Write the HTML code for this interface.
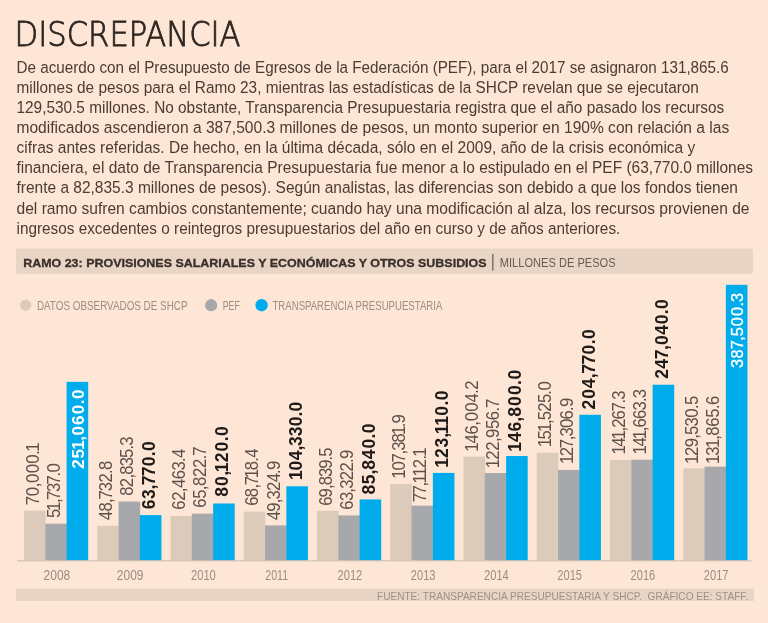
<!DOCTYPE html>
<html><head><meta charset="utf-8"><title>Discrepancia</title>
<style>
html,body{margin:0;padding:0;background:#fde6d5;}
body{width:768px;height:623px;overflow:hidden;position:relative;}
svg{position:absolute;left:0;top:0;display:block;}
</style></head><body>
<svg width="768" height="623" viewBox="0 0 768 623" font-family="'Liberation Sans', Arial, sans-serif">
<rect x="0" y="0" width="768" height="623" fill="#fde6d5"/>

<text x="14.6" y="46.4" font-family="'DejaVu Sans', sans-serif" font-weight="200" font-size="34" fill="#2f2622" stroke="#2f2622" stroke-width="0.85" textLength="226" lengthAdjust="spacingAndGlyphs">DISCREPANCIA</text>
<text x="16.5" y="72.50" font-size="17.2" fill="#4a3c34" textLength="712.2" lengthAdjust="spacingAndGlyphs">De acuerdo con el Presupuesto de Egresos de la Federación (PEF), para el 2017 se asignaron 131,865.6</text>
<text x="16.5" y="92.66" font-size="17.2" fill="#4a3c34" textLength="682.4" lengthAdjust="spacingAndGlyphs">millones de pesos para el Ramo 23, mientras las estadísticas de la SHCP revelan que se ejecutaron</text>
<text x="16.5" y="112.82" font-size="17.2" fill="#4a3c34" textLength="707.8" lengthAdjust="spacingAndGlyphs">129,530.5 millones. No obstante, Transparencia Presupuestaria registra que el año pasado los recursos</text>
<text x="16.5" y="132.98" font-size="17.2" fill="#4a3c34" textLength="712.7" lengthAdjust="spacingAndGlyphs">modificados ascendieron a 387,500.3 millones de pesos, un monto superior en 190% con relación a las</text>
<text x="16.5" y="153.14" font-size="17.2" fill="#4a3c34" textLength="678.8" lengthAdjust="spacingAndGlyphs">cifras antes referidas. De hecho, en la última década, sólo en el 2009, año de la crisis económica y</text>
<text x="16.5" y="173.30" font-size="17.2" fill="#4a3c34" textLength="736.6" lengthAdjust="spacingAndGlyphs">financiera, el dato de Transparencia Presupuestaria fue menor a lo estipulado en el PEF (63,770.0 millones</text>
<text x="16.5" y="193.46" font-size="17.2" fill="#4a3c34" textLength="721.4" lengthAdjust="spacingAndGlyphs">frente a 82,835.3 millones de pesos). Según analistas, las diferencias son debido a que los fondos tienen</text>
<text x="16.5" y="213.62" font-size="17.2" fill="#4a3c34" textLength="733.0" lengthAdjust="spacingAndGlyphs">del ramo sufren cambios constantemente; cuando hay una modificación al alza, los recursos provienen de</text>
<text x="16.5" y="233.78" font-size="17.2" fill="#4a3c34" textLength="603.8" lengthAdjust="spacingAndGlyphs">ingresos excedentes o reintegros presupuestarios del año en curso y de años anteriores.</text>
<rect x="16" y="248.6" width="737" height="25.4" rx="2" fill="#e8d5c5"/>
<text x="23.2" y="267" font-size="11.6" font-weight="700" fill="#3a2f2a" stroke="#3a2f2a" stroke-width="0.3" textLength="463.4" lengthAdjust="spacingAndGlyphs">RAMO 23: PROVISIONES SALARIALES Y ECONÓMICAS Y OTROS SUBSIDIOS</text>
<rect x="492.3" y="254" width="1.1" height="16.5" fill="#5a4d46"/>
<text x="499.8" y="267.1" font-size="12.2" fill="#6a5c54" textLength="115.8" lengthAdjust="spacingAndGlyphs">MILLONES DE PESOS</text>
<circle cx="25.7" cy="305.2" r="5.6" fill="#dccabb"/>
<text x="36.9" y="309.5" font-size="11.9" fill="#9a8e86" textLength="150.6" lengthAdjust="spacingAndGlyphs">DATOS OBSERVADOS DE SHCP</text>
<circle cx="211.1" cy="305.2" r="6.1" fill="#a7a8ab"/>
<text x="222.7" y="309.5" font-size="11.9" fill="#9a8e86" textLength="17.1" lengthAdjust="spacingAndGlyphs">PEF</text>
<circle cx="261.6" cy="305.2" r="6.2" fill="#00acec"/>
<text x="272.5" y="309.5" font-size="11.9" fill="#9a8e86" textLength="169.8" lengthAdjust="spacingAndGlyphs">TRANSPARENCIA PRESUPUESTARIA</text>
<g>
<rect x="24.00" y="510.70" width="21.60" height="49.80" fill="#dccabb"/>
<rect x="45.30" y="523.69" width="21.60" height="36.81" fill="#a7a8ab"/>
<rect x="66.60" y="381.87" width="21.60" height="178.63" fill="#00acec"/>
<rect x="97.25" y="525.83" width="21.60" height="34.67" fill="#dccabb"/>
<rect x="118.55" y="501.56" width="21.60" height="58.94" fill="#a7a8ab"/>
<rect x="139.85" y="515.13" width="21.60" height="45.37" fill="#00acec"/>
<rect x="170.50" y="516.06" width="21.60" height="44.44" fill="#dccabb"/>
<rect x="191.80" y="513.67" width="21.60" height="46.83" fill="#a7a8ab"/>
<rect x="213.10" y="503.50" width="21.60" height="57.00" fill="#00acec"/>
<rect x="243.75" y="511.61" width="21.60" height="48.89" fill="#dccabb"/>
<rect x="265.05" y="525.41" width="21.60" height="35.09" fill="#a7a8ab"/>
<rect x="286.35" y="486.27" width="21.60" height="74.23" fill="#00acec"/>
<rect x="317.00" y="510.81" width="21.60" height="49.69" fill="#dccabb"/>
<rect x="338.30" y="515.45" width="21.60" height="45.05" fill="#a7a8ab"/>
<rect x="359.60" y="499.43" width="21.60" height="61.07" fill="#00acec"/>
<rect x="390.25" y="484.10" width="21.60" height="76.40" fill="#dccabb"/>
<rect x="411.55" y="505.64" width="21.60" height="54.86" fill="#a7a8ab"/>
<rect x="432.85" y="472.91" width="21.60" height="87.59" fill="#00acec"/>
<rect x="463.50" y="456.62" width="21.60" height="103.88" fill="#dccabb"/>
<rect x="484.80" y="473.02" width="21.60" height="87.48" fill="#a7a8ab"/>
<rect x="506.10" y="456.05" width="21.60" height="104.45" fill="#00acec"/>
<rect x="536.75" y="452.69" width="21.60" height="107.81" fill="#dccabb"/>
<rect x="558.05" y="469.92" width="21.60" height="90.58" fill="#a7a8ab"/>
<rect x="579.35" y="414.81" width="21.60" height="145.69" fill="#00acec"/>
<rect x="610.00" y="459.99" width="21.60" height="100.51" fill="#dccabb"/>
<rect x="631.30" y="459.71" width="21.60" height="100.79" fill="#a7a8ab"/>
<rect x="652.60" y="384.74" width="21.60" height="175.76" fill="#00acec"/>
<rect x="683.25" y="468.34" width="21.60" height="92.16" fill="#dccabb"/>
<rect x="704.55" y="466.68" width="21.60" height="93.82" fill="#a7a8ab"/>
<rect x="725.85" y="284.80" width="21.60" height="275.70" fill="#00acec"/>
</g>
<rect x="17" y="560.3" width="735" height="1" fill="#cdbcae"/>
<text transform="translate(38.50,504.30) rotate(-90) scale(0.95,1)" x="-0.90 8.40 17.90 22.51 32.61 42.72 52.23 55.39" font-size="17.6" font-weight="400" fill="#5d514b">70,000.1</text>
<text transform="translate(59.80,517.40) rotate(-90) scale(0.95,1)" x="-0.70 6.82 15.03 18.44 26.64 34.72 43.05 47.22" font-size="17.6" font-weight="400" fill="#5d514b">51,737.0</text>
<text transform="translate(83.60,468.10) rotate(-90) scale(1.0,1)" x="-0.60 9.50 18.36 27.38 32.63 43.20 53.80 63.81 69.04" font-size="17.2" font-weight="700" fill="#ffffff">251,060.0</text>
<text x="56.90" y="579.8" font-size="14.8" fill="#9a8d83" text-anchor="middle" textLength="26.6" lengthAdjust="spacingAndGlyphs">2008</text>
<text transform="translate(111.75,520.00) rotate(-90) scale(0.95,1)" x="-0.40 8.87 17.98 21.62 30.31 39.44 48.55 52.77" font-size="17.6" font-weight="400" fill="#5d514b">48,732.8</text>
<text transform="translate(133.05,495.00) rotate(-90) scale(0.95,1)" x="-0.76 8.28 17.25 21.32 30.28 39.02 47.84 51.83" font-size="17.6" font-weight="400" fill="#5d514b">82,835.3</text>
<text transform="translate(155.05,508.70) rotate(-90) scale(1.0,1)" x="-0.64 9.63 19.14 23.45 32.52 42.47 52.51 57.69" font-size="17.5" font-weight="700" fill="#1f1a18">63,770.0</text>
<text x="130.15" y="579.8" font-size="14.8" fill="#9a8d83" text-anchor="middle" textLength="26.6" lengthAdjust="spacingAndGlyphs">2009</text>
<text transform="translate(185.00,508.90) rotate(-90) scale(0.95,1)" x="-0.89 8.51 17.64 21.92 31.15 40.46 49.39 53.67" font-size="17.6" font-weight="400" fill="#5d514b">62,463.4</text>
<text transform="translate(206.30,506.90) rotate(-90) scale(0.95,1)" x="-0.89 8.57 17.62 21.94 31.46 40.99 50.20 53.94" font-size="17.6" font-weight="400" fill="#5d514b">65,822.7</text>
<text transform="translate(228.30,496.30) rotate(-90) scale(1.0,1)" x="-0.56 10.29 20.45 24.14 34.00 44.79 54.97 60.29" font-size="17.5" font-weight="700" fill="#1f1a18">80,120.0</text>
<text x="203.40" y="579.8" font-size="14.8" fill="#9a8d83" text-anchor="middle" textLength="24.7" lengthAdjust="spacingAndGlyphs">2010</text>
<text transform="translate(258.25,505.00) rotate(-90) scale(0.95,1)" x="-0.89 8.26 17.26 20.80 28.21 36.63 45.63 49.78" font-size="17.6" font-weight="400" fill="#5d514b">68,718.4</text>
<text transform="translate(279.55,519.90) rotate(-90) scale(0.95,1)" x="-0.40 8.59 17.56 21.55 30.42 39.52 48.44 52.52" font-size="17.6" font-weight="400" fill="#5d514b">49,324.9</text>
<text transform="translate(301.55,478.80) rotate(-90) scale(1.0,1)" x="-1.10 8.42 18.53 28.22 32.93 42.59 52.53 62.39 67.39" font-size="17.5" font-weight="700" fill="#1f1a18">104,330.0</text>
<text x="276.65" y="579.8" font-size="14.8" fill="#9a8d83" text-anchor="middle" textLength="22.8" lengthAdjust="spacingAndGlyphs">2011</text>
<text transform="translate(331.50,505.00) rotate(-90) scale(0.95,1)" x="-0.89 7.96 16.80 20.75 29.46 38.07 46.91 50.74" font-size="17.6" font-weight="400" fill="#5d514b">69,839.5</text>
<text transform="translate(352.80,508.90) rotate(-90) scale(0.95,1)" x="-0.89 8.26 17.11 21.16 30.16 39.33 48.37 52.52" font-size="17.6" font-weight="400" fill="#5d514b">63,322.9</text>
<text transform="translate(374.80,494.00) rotate(-90) scale(1.0,1)" x="-0.56 9.70 19.41 24.39 34.74 45.53 55.64 60.89" font-size="17.5" font-weight="700" fill="#1f1a18">85,840.0</text>
<text x="349.90" y="579.8" font-size="14.8" fill="#9a8d83" text-anchor="middle" textLength="24.7" lengthAdjust="spacingAndGlyphs">2012</text>
<text transform="translate(404.75,477.40) rotate(-90) scale(0.95,1)" x="-1.34 7.15 15.74 24.12 28.05 36.78 44.57 52.82 56.83" font-size="17.6" font-weight="400" fill="#5d514b">107,381.9</text>
<text transform="translate(426.05,501.50) rotate(-90) scale(0.95,1)" x="-0.90 7.31 15.87 18.92 26.38 35.02 44.13 47.18" font-size="17.6" font-weight="400" fill="#5d514b">77,112.1</text>
<text transform="translate(448.05,466.60) rotate(-90) scale(1.0,1)" x="-1.10 8.71 19.13 28.74 32.40 40.81 50.85 61.00 66.29" font-size="17.5" font-weight="700" fill="#1f1a18">123,110.0</text>
<text x="423.15" y="579.8" font-size="14.8" fill="#9a8d83" text-anchor="middle" textLength="24.7" lengthAdjust="spacingAndGlyphs">2013</text>
<text transform="translate(478.00,450.60) rotate(-90) scale(0.95,1)" x="-1.34 7.54 16.97 26.25 30.81 40.83 50.66 59.83 64.15" font-size="17.6" font-weight="400" fill="#5d514b">146,004.2</text>
<text transform="translate(499.30,466.90) rotate(-90) scale(0.95,1)" x="-1.34 7.44 16.94 26.13 30.43 39.80 49.07 58.33 62.04" font-size="17.6" font-weight="400" fill="#5d514b">122,956.7</text>
<text transform="translate(521.30,450.60) rotate(-90) scale(1.0,1)" x="-1.10 8.53 19.06 28.91 33.90 44.64 55.61 65.73 70.99" font-size="17.5" font-weight="700" fill="#1f1a18">146,800.0</text>
<text x="496.40" y="579.8" font-size="14.8" fill="#9a8d83" text-anchor="middle" textLength="24.7" lengthAdjust="spacingAndGlyphs">2014</text>
<text transform="translate(551.25,446.10) rotate(-90) scale(0.95,1)" x="-1.34 7.02 14.86 23.21 27.22 36.22 45.25 54.12 58.48" font-size="17.6" font-weight="400" fill="#5d514b">151,525.0</text>
<text transform="translate(572.55,462.80) rotate(-90) scale(0.95,1)" x="-1.34 6.93 15.30 23.68 27.61 36.56 45.64 54.61 58.62" font-size="17.6" font-weight="400" fill="#5d514b">127,306.9</text>
<text transform="translate(594.55,408.90) rotate(-90) scale(1.0,1)" x="-0.61 10.11 20.76 30.72 35.12 44.35 54.47 64.61 69.89" font-size="17.5" font-weight="700" fill="#1f1a18">204,770.0</text>
<text x="569.65" y="579.8" font-size="14.8" fill="#9a8d83" text-anchor="middle" textLength="24.7" lengthAdjust="spacingAndGlyphs">2015</text>
<text transform="translate(624.50,453.30) rotate(-90) scale(0.95,1)" x="-1.34 6.95 14.64 22.88 26.87 35.69 44.08 52.45 56.35" font-size="17.6" font-weight="400" fill="#5d514b">141,267.3</text>
<text transform="translate(645.80,453.30) rotate(-90) scale(0.95,1)" x="-1.34 7.07 14.89 23.18 27.18 36.20 45.19 53.96 57.93" font-size="17.6" font-weight="400" fill="#5d514b">141,663.3</text>
<text transform="translate(667.80,378.20) rotate(-90) scale(1.0,1)" x="-0.61 9.41 19.04 28.12 33.23 43.53 54.03 63.99 69.09" font-size="17.5" font-weight="700" fill="#1f1a18">247,040.0</text>
<text x="642.90" y="579.8" font-size="14.8" fill="#9a8d83" text-anchor="middle" textLength="24.7" lengthAdjust="spacingAndGlyphs">2016</text>
<text transform="translate(697.75,462.70) rotate(-90) scale(0.95,1)" x="-1.34 7.13 16.28 25.29 29.30 38.20 47.38 56.63 60.63" font-size="17.6" font-weight="400" fill="#5d514b">129,530.5</text>
<text transform="translate(719.05,462.70) rotate(-90) scale(0.95,1)" x="-1.34 7.40 15.55 24.06 28.38 37.87 47.35 56.41 60.67" font-size="17.6" font-weight="400" fill="#5d514b">131,865.6</text>
<text transform="translate(742.85,367.50) rotate(-90) scale(0.95,1)" x="-0.66 9.48 19.19 28.25 32.99 43.42 54.28 64.20 68.98" font-size="17.2" font-weight="400" fill="#ffffff" stroke="#ffffff" stroke-width="0.3">387,500.3</text>
<text x="716.15" y="579.8" font-size="14.8" fill="#9a8d83" text-anchor="middle" textLength="24.7" lengthAdjust="spacingAndGlyphs">2017</text>
<rect x="16" y="588.6" width="738" height="12.4" fill="#e8d5c5"/>
<text x="377" y="599.8" font-size="11.6" fill="#9d9188" textLength="371.2" lengthAdjust="spacingAndGlyphs" xml:space="preserve">FUENTE: TRANSPARENCIA PRESUPUESTARIA Y SHCP.  GRÁFICO EE: STAFF.</text>
</svg>
</body></html>
